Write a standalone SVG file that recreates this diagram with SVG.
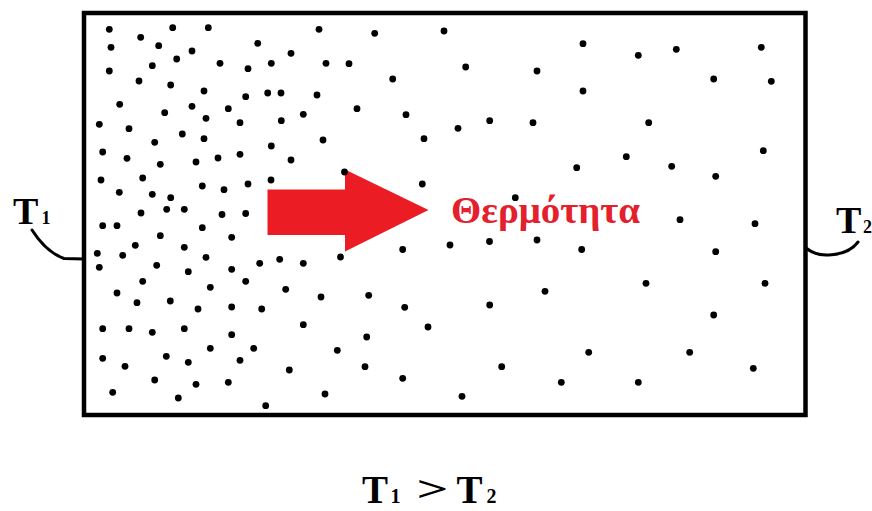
<svg xmlns="http://www.w3.org/2000/svg" width="872" height="511" viewBox="0 0 872 511">
  <style>
    .frame { fill: none; stroke: #000; stroke-width: 4.5; }
    .lead { fill: none; stroke: #000; stroke-width: 3; stroke-linecap: round; stroke-linejoin: round; }
    .dot { fill: #000; }
    .serif { font-family: "Liberation Serif", "DejaVu Serif", serif; font-weight: bold; fill: #000; }
    .heat { font-family: "Liberation Serif", "DejaVu Serif", serif; font-weight: bold; fill: #e3202b; }
  </style>
  <rect width="872" height="511" fill="#fff"/>

  <!-- container -->
  <g id="box">
    <rect class="frame" x="84" y="13" width="721.5" height="402"/>
  </g>

  <!-- heat flow arrow -->
  <g id="arrow">
    <polygon fill="#ec1c24" points="267.5,189.5 345,189.5 345,169.5 428.5,210 345,251.5 345,235 267.5,235"/>
  </g>

  <!-- particles: dense on the hot side, sparse on the cold side -->
  <g id="particles">
    <circle class="dot" cx="109.3" cy="29.3" r="3.4"/>
    <circle class="dot" cx="172.7" cy="27.7" r="3.4"/>
    <circle class="dot" cx="208.3" cy="27.7" r="3.4"/>
    <circle class="dot" cx="319" cy="29.3" r="3.4"/>
    <circle class="dot" cx="140.7" cy="37.3" r="3.4"/>
    <circle class="dot" cx="111" cy="47.3" r="3.4"/>
    <circle class="dot" cx="158.7" cy="45.7" r="3.4"/>
    <circle class="dot" cx="192" cy="51" r="3.4"/>
    <circle class="dot" cx="257.7" cy="43.3" r="3.4"/>
    <circle class="dot" cx="291" cy="53.3" r="3.4"/>
    <circle class="dot" cx="176.7" cy="59" r="3.4"/>
    <circle class="dot" cx="152.3" cy="65.7" r="3.4"/>
    <circle class="dot" cx="220" cy="63.3" r="3.4"/>
    <circle class="dot" cx="248" cy="68.7" r="3.4"/>
    <circle class="dot" cx="271.3" cy="63.3" r="3.4"/>
    <circle class="dot" cx="326" cy="63.3" r="3.4"/>
    <circle class="dot" cx="109.3" cy="71" r="3.4"/>
    <circle class="dot" cx="139" cy="81" r="3.4"/>
    <circle class="dot" cx="170.7" cy="85" r="3.4"/>
    <circle class="dot" cx="204" cy="91" r="3.4"/>
    <circle class="dot" cx="245.7" cy="96.7" r="3.4"/>
    <circle class="dot" cx="267.7" cy="93" r="3.4"/>
    <circle class="dot" cx="281" cy="93" r="3.4"/>
    <circle class="dot" cx="317" cy="95" r="3.4"/>
    <circle class="dot" cx="119.7" cy="104.3" r="3.4"/>
    <circle class="dot" cx="164.7" cy="112.7" r="3.4"/>
    <circle class="dot" cx="192" cy="106.3" r="3.4"/>
    <circle class="dot" cx="228.3" cy="108.7" r="3.4"/>
    <circle class="dot" cx="206" cy="118.3" r="3.4"/>
    <circle class="dot" cx="240" cy="122.7" r="3.4"/>
    <circle class="dot" cx="281.3" cy="120.7" r="3.4"/>
    <circle class="dot" cx="303.3" cy="114.3" r="3.4"/>
    <circle class="dot" cx="99.3" cy="124.3" r="3.4"/>
    <circle class="dot" cx="129" cy="128.7" r="3.4"/>
    <circle class="dot" cx="182.3" cy="134" r="3.4"/>
    <circle class="dot" cx="204" cy="138.7" r="3.4"/>
    <circle class="dot" cx="154.7" cy="142.3" r="3.4"/>
    <circle class="dot" cx="323" cy="140" r="3.4"/>
    <circle class="dot" cx="102.7" cy="152" r="3.4"/>
    <circle class="dot" cx="127" cy="158.3" r="3.4"/>
    <circle class="dot" cx="160.3" cy="164.3" r="3.4"/>
    <circle class="dot" cx="196" cy="162" r="3.4"/>
    <circle class="dot" cx="218" cy="158" r="3.4"/>
    <circle class="dot" cx="240" cy="154.3" r="3.4"/>
    <circle class="dot" cx="271.3" cy="146" r="3.4"/>
    <circle class="dot" cx="291" cy="160" r="3.4"/>
    <circle class="dot" cx="101" cy="180" r="3.4"/>
    <circle class="dot" cx="142.7" cy="178" r="3.4"/>
    <circle class="dot" cx="202.3" cy="186" r="3.4"/>
    <circle class="dot" cx="224" cy="189.7" r="3.4"/>
    <circle class="dot" cx="248" cy="184" r="3.4"/>
    <circle class="dot" cx="271" cy="180" r="3.4"/>
    <circle class="dot" cx="119.3" cy="192.3" r="3.4"/>
    <circle class="dot" cx="152.3" cy="194.3" r="3.4"/>
    <circle class="dot" cx="170.7" cy="197.7" r="3.4"/>
    <circle class="dot" cx="141" cy="213" r="3.4"/>
    <circle class="dot" cx="166.7" cy="209.3" r="3.4"/>
    <circle class="dot" cx="184.3" cy="209.3" r="3.4"/>
    <circle class="dot" cx="222" cy="214.5" r="3.4"/>
    <circle class="dot" cx="245.7" cy="213.5" r="3.4"/>
    <circle class="dot" cx="102.7" cy="225.7" r="3.4"/>
    <circle class="dot" cx="117" cy="225.7" r="3.4"/>
    <circle class="dot" cx="160.3" cy="235.7" r="3.4"/>
    <circle class="dot" cx="202.3" cy="227.7" r="3.4"/>
    <circle class="dot" cx="231.7" cy="237.3" r="3.4"/>
    <circle class="dot" cx="135.3" cy="245.3" r="3.4"/>
    <circle class="dot" cx="184.3" cy="247.3" r="3.4"/>
    <circle class="dot" cx="97.3" cy="253.3" r="3.4"/>
    <circle class="dot" cx="122.7" cy="255.3" r="3.4"/>
    <circle class="dot" cx="206" cy="257.3" r="3.4"/>
    <circle class="dot" cx="99.3" cy="267.3" r="3.4"/>
    <circle class="dot" cx="156.7" cy="265.3" r="3.4"/>
    <circle class="dot" cx="188.3" cy="271.7" r="3.4"/>
    <circle class="dot" cx="231.7" cy="269.3" r="3.4"/>
    <circle class="dot" cx="259.7" cy="263.3" r="3.4"/>
    <circle class="dot" cx="279.7" cy="259.3" r="3.4"/>
    <circle class="dot" cx="303.3" cy="263.3" r="3.4"/>
    <circle class="dot" cx="142.7" cy="281.3" r="3.4"/>
    <circle class="dot" cx="210.3" cy="287.3" r="3.4"/>
    <circle class="dot" cx="245.7" cy="281.3" r="3.4"/>
    <circle class="dot" cx="285.7" cy="289.3" r="3.4"/>
    <circle class="dot" cx="321" cy="297" r="3.4"/>
    <circle class="dot" cx="117" cy="293" r="3.4"/>
    <circle class="dot" cx="137" cy="302.7" r="3.4"/>
    <circle class="dot" cx="170.3" cy="301" r="3.4"/>
    <circle class="dot" cx="198" cy="309" r="3.4"/>
    <circle class="dot" cx="231.7" cy="307" r="3.4"/>
    <circle class="dot" cx="261.7" cy="309" r="3.4"/>
    <circle class="dot" cx="102.7" cy="328.7" r="3.4"/>
    <circle class="dot" cx="129" cy="328.7" r="3.4"/>
    <circle class="dot" cx="152.3" cy="332.3" r="3.4"/>
    <circle class="dot" cx="184.3" cy="328.7" r="3.4"/>
    <circle class="dot" cx="231.7" cy="334.7" r="3.4"/>
    <circle class="dot" cx="303.3" cy="324.7" r="3.4"/>
    <circle class="dot" cx="210.3" cy="348.3" r="3.4"/>
    <circle class="dot" cx="253.7" cy="348.3" r="3.4"/>
    <circle class="dot" cx="102.7" cy="358.3" r="3.4"/>
    <circle class="dot" cx="125" cy="366.3" r="3.4"/>
    <circle class="dot" cx="166.3" cy="356.3" r="3.4"/>
    <circle class="dot" cx="188.3" cy="362.3" r="3.4"/>
    <circle class="dot" cx="240" cy="360.3" r="3.4"/>
    <circle class="dot" cx="289.3" cy="370" r="3.4"/>
    <circle class="dot" cx="154.7" cy="380" r="3.4"/>
    <circle class="dot" cx="196" cy="384.3" r="3.4"/>
    <circle class="dot" cx="228.3" cy="382.3" r="3.4"/>
    <circle class="dot" cx="112.7" cy="392.3" r="3.4"/>
    <circle class="dot" cx="178.3" cy="398" r="3.4"/>
    <circle class="dot" cx="265.7" cy="405.7" r="3.4"/>
    <circle class="dot" cx="325" cy="394" r="3.4"/>
    <circle class="dot" cx="374.7" cy="33.3" r="3.4"/>
    <circle class="dot" cx="444" cy="31" r="3.4"/>
    <circle class="dot" cx="349" cy="63.7" r="3.4"/>
    <circle class="dot" cx="465.7" cy="67" r="3.4"/>
    <circle class="dot" cx="392.7" cy="79" r="3.4"/>
    <circle class="dot" cx="537" cy="71" r="3.4"/>
    <circle class="dot" cx="357" cy="108.7" r="3.4"/>
    <circle class="dot" cx="406" cy="114.7" r="3.4"/>
    <circle class="dot" cx="424" cy="138.7" r="3.4"/>
    <circle class="dot" cx="458" cy="128.3" r="3.4"/>
    <circle class="dot" cx="489.7" cy="120.7" r="3.4"/>
    <circle class="dot" cx="533" cy="122.7" r="3.4"/>
    <circle class="dot" cx="576.7" cy="167.7" r="3.4"/>
    <circle class="dot" cx="344.5" cy="172" r="3.4"/>
    <circle class="dot" cx="422.3" cy="184" r="3.4"/>
    <circle class="dot" cx="515.3" cy="197.7" r="3.4"/>
    <circle class="dot" cx="402.7" cy="249.5" r="3.4"/>
    <circle class="dot" cx="450" cy="245" r="3.4"/>
    <circle class="dot" cx="489.5" cy="241.5" r="3.4"/>
    <circle class="dot" cx="537" cy="240" r="3.4"/>
    <circle class="dot" cx="581.7" cy="249.5" r="3.4"/>
    <circle class="dot" cx="340.5" cy="257" r="3.4"/>
    <circle class="dot" cx="368.7" cy="295.3" r="3.4"/>
    <circle class="dot" cx="404.7" cy="307.3" r="3.4"/>
    <circle class="dot" cx="489.7" cy="305" r="3.4"/>
    <circle class="dot" cx="545" cy="291.3" r="3.4"/>
    <circle class="dot" cx="428" cy="327" r="3.4"/>
    <circle class="dot" cx="366.7" cy="337" r="3.4"/>
    <circle class="dot" cx="337.3" cy="350.3" r="3.4"/>
    <circle class="dot" cx="365" cy="366.7" r="3.4"/>
    <circle class="dot" cx="402.7" cy="378.3" r="3.4"/>
    <circle class="dot" cx="501.7" cy="366.7" r="3.4"/>
    <circle class="dot" cx="561.3" cy="382.3" r="3.4"/>
    <circle class="dot" cx="462" cy="396.3" r="3.4"/>
    <circle class="dot" cx="583" cy="43.7" r="3.4"/>
    <circle class="dot" cx="638.3" cy="55.3" r="3.4"/>
    <circle class="dot" cx="676.3" cy="49.3" r="3.4"/>
    <circle class="dot" cx="761.3" cy="47.3" r="3.4"/>
    <circle class="dot" cx="713.7" cy="79" r="3.4"/>
    <circle class="dot" cx="771.3" cy="81.3" r="3.4"/>
    <circle class="dot" cx="583" cy="91" r="3.4"/>
    <circle class="dot" cx="648.7" cy="122.7" r="3.4"/>
    <circle class="dot" cx="626.3" cy="156.7" r="3.4"/>
    <circle class="dot" cx="671.7" cy="166.3" r="3.4"/>
    <circle class="dot" cx="715.7" cy="176.3" r="3.4"/>
    <circle class="dot" cx="763.3" cy="150.7" r="3.4"/>
    <circle class="dot" cx="680" cy="219.7" r="3.4"/>
    <circle class="dot" cx="755" cy="223.7" r="3.4"/>
    <circle class="dot" cx="715.7" cy="251.7" r="3.4"/>
    <circle class="dot" cx="646" cy="283.3" r="3.4"/>
    <circle class="dot" cx="765" cy="283.3" r="3.4"/>
    <circle class="dot" cx="713.7" cy="315" r="3.4"/>
    <circle class="dot" cx="588.7" cy="352.3" r="3.4"/>
    <circle class="dot" cx="689.7" cy="352.3" r="3.4"/>
    <circle class="dot" cx="753.3" cy="368.3" r="3.4"/>
    <circle class="dot" cx="638.3" cy="382.3" r="3.4"/>
  </g>

  <!-- heat label -->
  <g id="heat-label">
    <text class="heat" x="451" y="223" font-size="37" textLength="189" lengthAdjust="spacingAndGlyphs">Θερμότητα</text>
  </g>

  <!-- lead lines from temperature labels to the walls -->
  <g id="connectors">
    <path class="lead" d="M32,230 Q46,252 64,258.5 L84,259"/>
    <path class="lead" d="M806,248 Q816,256 829,255 Q849,254 858,242"/>
  </g>

  <g id="label-t1">
    <text class="serif" x="13" y="224" font-size="38">T<tspan x="41.5" font-size="18">1</tspan></text>
  </g>

  <g id="label-t2">
    <text class="serif" x="836" y="233" font-size="38">T<tspan x="863" font-size="18">2</tspan></text>
  </g>

  <!-- condition caption -->
  <g id="caption">
    <text class="serif" x="362" y="503" font-size="39">T<tspan x="390.5" font-size="20">1</tspan></text>
    <text class="serif" x="416.5" y="501" font-size="36" font-weight="normal" textLength="32" lengthAdjust="spacingAndGlyphs">&gt;</text>
    <text class="serif" x="456.5" y="503" font-size="39">T<tspan x="486.5" font-size="20">2</tspan></text>
  </g>
</svg>
